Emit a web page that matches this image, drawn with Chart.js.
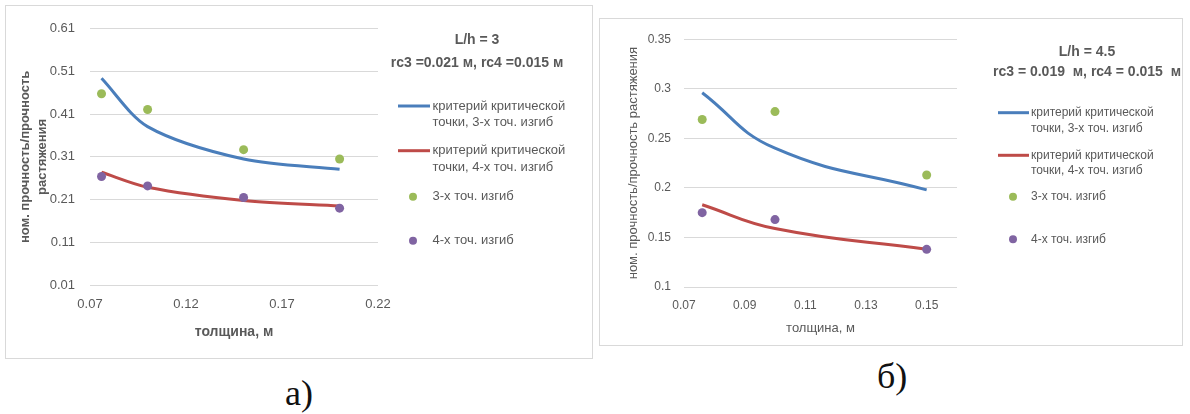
<!DOCTYPE html>
<html>
<head>
<meta charset="utf-8">
<script src="https://cdn.jsdelivr.net/npm/chart.js@4/dist/chart.umd.min.js"></script>
<style>
  body { margin: 0; background: #fff; width: 1190px; height: 414px; position: relative; overflow: hidden; }
  .box { position: absolute; border: 1px solid #d9d9d9; background: #fff; }
  .cap { position: absolute; font-family: 'Liberation Serif', serif; font-size: 36px; line-height: 36px; color: #111; }
</style>
</head>
<body>
<div class="box" style="left:5px;top:5px;width:586px;height:352px"><canvas id="grafA" width="586" height="352"></canvas></div>
<div class="box" style="left:599px;top:18px;width:582px;height:326px"><canvas id="grafB" width="582" height="326"></canvas></div>
<div class="cap" style="left:285px;top:375px">а)</div>
<div class="cap" style="left:877px;top:358px">б)</div>
<script>
// толщина образца, м
var tolshA = [0.076, 0.1, 0.15, 0.2];
var tolshB = [0.076, 0.1, 0.15];

// L/h = 3
var krit3A  = [0.494, 0.381, 0.305, 0.281];
var krit4A  = [0.274, 0.239, 0.208, 0.195];
var izgib3A = [0.458, 0.421, 0.327, 0.305];
var izgib4A = [0.264, 0.242, 0.215, 0.19];

// L/h = 4.5
var krit3B  = [0.296, 0.240, 0.198];
var krit4B  = [0.183, 0.159, 0.138];
var izgib3B = [0.269, 0.277, 0.213];
var izgib4B = [0.175, 0.168, 0.138];

// подписи осей
var yTicksA = [0.01, 0.11, 0.21, 0.31, 0.41, 0.51, 0.61];
var xTicksA = [0.07, 0.12, 0.17, 0.22];
var yTicksB = [0.1, 0.15, 0.2, 0.25, 0.3, 0.35];
var xTicksB = [0.07, 0.09, 0.11, 0.13, 0.15];

var nazv3 = ['критерий критической', 'точки, 3-х точ. изгиб'];
var nazv4 = ['критерий критической', 'точки, 4-х точ. изгиб'];

var SERYI = '#595959';

function pary(xs, ys) {
    return xs.map(function (x, i) { return { x: x, y: ys[i] }; });
}

function fmt(v) {
    return String(+Number(v).toFixed(2));
}

// заголовок и легенда справа от графика
var panelPlugin = {
    id: 'panel',
    afterDraw: function (chart, args, o) {
        var ctx = chart.ctx;
        ctx.save();
        ctx.fillStyle = SERYI;
        ctx.textBaseline = 'middle';
        ctx.textAlign = 'center';
        ctx.font = o.titleFont;
        o.title.forEach(function (t, i) { ctx.fillText(t, o.titleX, o.titleY[i]); });
        ctx.textAlign = 'left';
        ctx.font = o.font;
        chart.data.datasets.forEach(function (ds, i) {
            var y = o.itemY[i];
            if (ds.showLine) {
                ctx.strokeStyle = ds.borderColor;
                ctx.lineWidth = ds.borderWidth;
                ctx.beginPath();
                ctx.moveTo(o.lineX[0], y);
                ctx.lineTo(o.lineX[1], y);
                ctx.stroke();
            } else {
                ctx.fillStyle = ds.backgroundColor;
                ctx.beginPath();
                ctx.arc(o.dotX, y, 4, 0, Math.PI * 2);
                ctx.fill();
            }
            ctx.fillStyle = SERYI;
            [].concat(ds.label).forEach(function (s, k) {
                ctx.fillText(s, o.textX, y + k * o.lineGap);
            });
        });
        ctx.restore();
    }
};

function nabor(tol, k3, k4, i3, i4, tension) {
    return [
        { label: nazv3, data: pary(tol, k3), showLine: true, borderColor: '#4a7ebb', borderWidth: 3,
          pointRadius: 0, tension: tension, order: 1 },
        { label: nazv4, data: pary(tol, k4), showLine: true, borderColor: '#be4b48', borderWidth: 3,
          pointRadius: 0, tension: tension, order: 1 },
        { label: '3-х точ. изгиб', data: pary(tol, i3), backgroundColor: '#9bbb59', borderWidth: 0,
          pointRadius: 4.5, order: 0 },
        { label: '4-х точ. изгиб', data: pary(tol, i4), backgroundColor: '#8064a2', borderWidth: 0,
          pointRadius: 4.5, order: 0 }
    ];
}

function osi(p) {
    return {
        x: {
            type: 'linear', min: p.xMin, max: p.xMax,
            afterBuildTicks: function (s) { s.ticks = p.xTicks.map(function (v) { return { value: v }; }); },
            afterFit: function (s) { s.height = p.xH; },
            grid: { display: false, drawTicks: false },
            border: { display: false },
            ticks: { color: SERYI, font: { size: p.tick }, padding: p.xPad, maxRotation: 0, callback: fmt },
            title: { display: true, text: 'толщина, м', color: SERYI,
                     font: { size: p.tSize, weight: p.bold ? 'bold' : 'normal' }, padding: { top: 0, bottom: p.xtPad } }
        },
        y: {
            type: 'linear', min: p.yMin, max: p.yMax,
            afterBuildTicks: function (s) { s.ticks = p.yTicks.map(function (v) { return { value: v }; }); },
            afterFit: function (s) { s.width = 84; },
            grid: { color: '#d9d9d9', lineWidth: 1, drawTicks: false },
            border: { display: false },
            ticks: { color: SERYI, font: { size: p.tick }, padding: p.yPad, callback: fmt },
            title: { display: true, text: p.yTitle, color: SERYI,
                     font: { size: 13, weight: p.bold ? 'bold' : 'normal', lineHeight: 1.38 }, padding: { top: p.ytPad, bottom: 0 } }
        }
    };
}

Chart.defaults.font.family = "'Liberation Sans', Arial, sans-serif";

new Chart(document.getElementById('grafA').getContext('2d'), {
    type: 'scatter',
    data: { datasets: nabor(tolshA, krit3A, krit4A, izgib3A, izgib4A, 0.3) },
    options: {
        responsive: false, animation: false,
        layout: { padding: { left: 0, right: 214, top: 10, bottom: 0 } },
        scales: osi({ xMin: 0.07, xMax: 0.22, yMin: 0.01, yMax: 0.61, xTicks: xTicksA, yTicks: yTicksA,
                      xH: 73, tick: 13, xPad: 12, yPad: 15, tSize: 14, bold: true, xtPad: 17, ytPad: 10,
                      yTitle: ['ном. прочность/прочность', 'растяжения'] }),
        plugins: {
            legend: { display: false }, tooltip: { enabled: false },
            panel: { title: ['L/h = 3', 'rc3 =0.021 м, rc4 =0.015 м'], titleFont: "bold 14px 'Liberation Sans'",
                     titleX: 471, titleY: [34, 57], font: "13px 'Liberation Sans'",
                     itemY: [100, 144.7, 190.7, 234.7], lineX: [392, 424], dotX: 407, textX: 426.5, lineGap: 16.7 }
        }
    },
    plugins: [panelPlugin]
});

new Chart(document.getElementById('grafB').getContext('2d'), {
    type: 'scatter',
    data: { datasets: nabor(tolshB, krit3B, krit4B, izgib3B, izgib4B, 0.45) },
    options: {
        responsive: false, animation: false,
        layout: { padding: { left: 0, right: 225, top: 14, bottom: 0 } },
        scales: osi({ xMin: 0.07, xMax: 0.16, yMin: 0.1, yMax: 0.35, xTicks: xTicksB, yTicks: yTicksB,
                      xH: 58, tick: 12, xPad: 11, yPad: 13, tSize: 13, bold: false, xtPad: 9, ytPad: 24,
                      yTitle: 'ном. прочность/прочность растяжения' }),
        plugins: {
            legend: { display: false }, tooltip: { enabled: false },
            panel: { title: ['L/h = 4.5', 'rc3 = 0.019  м, rc4 = 0.015  м'], titleFont: "bold 14px 'Liberation Sans'",
                     titleX: 487, titleY: [32.7, 52.7], font: "12px 'Liberation Sans'",
                     itemY: [93.7, 136.3, 177.7, 220.3], lineX: [398, 429], dotX: 413, textX: 431, lineGap: 15.6 }
        }
    },
    plugins: [panelPlugin]
});
</script>
</body>
</html>
